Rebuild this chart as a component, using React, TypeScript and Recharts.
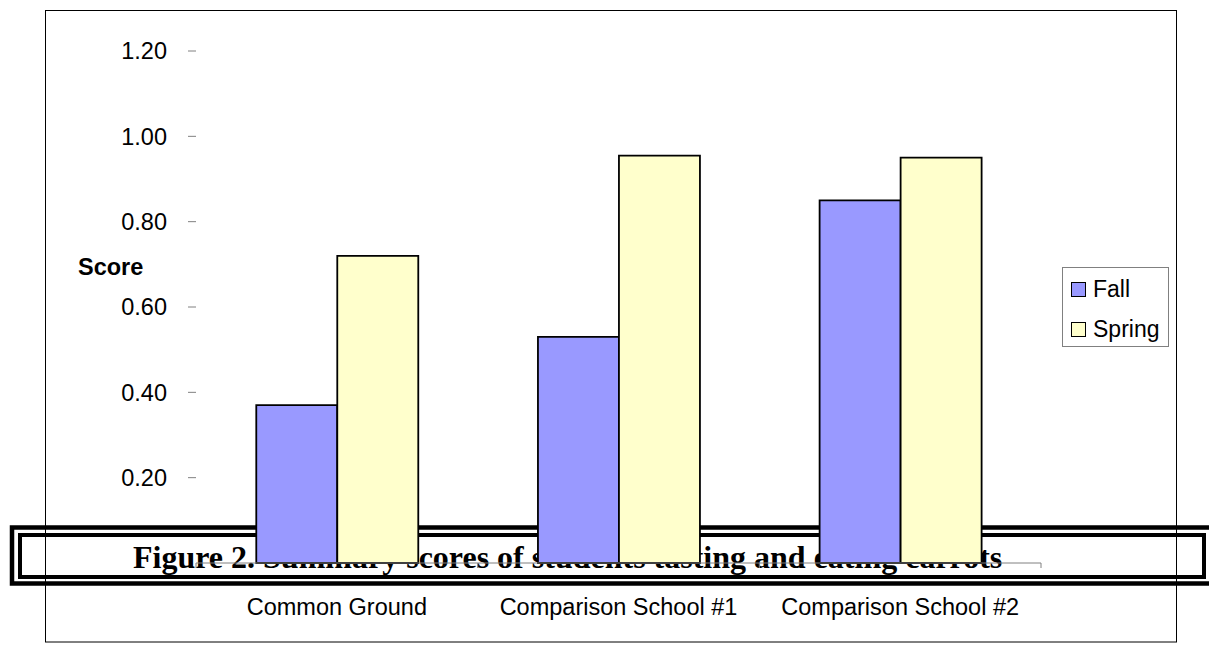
import { BarChart, Bar, XAxis, YAxis } from 'recharts'

const schools = ['Common Ground', 'Comparison School #1', 'Comparison School #2']
const fallScores = [0.37, 0.53, 0.85]
const springScores = [0.72, 0.955, 0.95]
const scoreTicks = [0.2, 0.4, 0.6, 0.8, 1.0, 1.2]

const FALL = '#9999FF'
const SPRING = '#FFFFCC'
const AXIS = '#808080'
const SANS = '"Liberation Sans", Arial, sans-serif'
const SERIF = '"Liberation Serif", "Times New Roman", serif'

const data = schools.map((school, i) => ({ school, Fall: fallScores[i], Spring: springScores[i] }))

const W = 1209
const H = 645
const TICK_SIZE = 5
const TICK_MARGIN = 30

// category label plus Excel-style tick marks on the band edges
function SchoolTick(props: any) {
  const { x, y, payload, index, visibleTicksCount } = props
  const half = payload?.offset ?? 0
  const axisY = y - TICK_SIZE - TICK_MARGIN
  return (
    <g>
      <line x1={x - half} x2={x - half} y1={axisY} y2={axisY + TICK_SIZE} stroke={AXIS} />
      {index === visibleTicksCount - 1 && (
        <line x1={x + half} x2={x + half} y1={axisY} y2={axisY + TICK_SIZE} stroke={AXIS} />
      )}
      <text x={x} y={y} dy="0.71em" textAnchor="middle" fontSize={23.5} fontFamily={SANS} fill="#000">
        {payload.value}
      </text>
    </g>
  )
}

function ScoreLabel(props: any) {
  const { viewBox } = props
  return (
    <text x={viewBox.x + 32} y={viewBox.y + 216} dominantBaseline="central" fontSize={23.5} fontWeight="bold" fontFamily={SANS} fill="#000">
      Score
    </text>
  )
}

function LegendBox() {
  const items = [
    { name: 'Fall', color: FALL },
    { name: 'Spring', color: SPRING },
  ]
  return (
    <div style={{ position: 'absolute', left: 1062, top: 267, width: 107, height: 80, border: `1px solid ${AXIS}`, boxSizing: 'border-box', background: '#fff' }}>
      {items.map((it, i) => (
        <div key={it.name} style={{ position: 'absolute', left: 8, top: 8 + i * 40, height: 26, display: 'flex', alignItems: 'center' }}>
          <span style={{ width: 13, height: 13, background: it.color, border: '1px solid #000', display: 'inline-block' }} />
          <span style={{ marginLeft: 7, fontFamily: SANS, fontSize: 23, lineHeight: '26px', color: '#000' }}>{it.name}</span>
        </div>
      ))}
    </div>
  )
}

export default function App() {
  return (
    <div style={{ position: 'absolute', left: 0, top: 0, width: W, height: H, overflow: 'hidden', background: '#fff' }}>
      {/* chart frame and the caption box that sits behind the bars */}
      <svg width={W} height={H} style={{ position: 'absolute', left: 0, top: 0 }}>
        <rect x={45.5} y={10.5} width={1131} height={631.5} fill="none" stroke="#000" />
        <rect x={12} y={527.5} width={1215} height={56} fill="none" stroke="#000" strokeWidth={4.5} />
        <rect x={20} y={535} width={1184} height={42} fill="none" stroke="#000" strokeWidth={4} />
        <text x={133} y={567.7} fontFamily={SERIF} fontWeight="bold" fontSize={32} fill="#000">
          Figure 2. Summary scores of students tasting and eating carrots
        </text>
      </svg>
      <div style={{ position: 'absolute', left: 0, top: 0 }}>
        <BarChart
          width={W}
          height={H}
          data={data}
          margin={{ top: 51, right: 168, bottom: 22, left: 46 }}
          barCategoryGap="21.4%"
          barGap={0}
        >
          <XAxis
            dataKey="school"
            height={60}
            axisLine={{ stroke: AXIS }}
            tickLine={false}
            tickSize={TICK_SIZE}
            tickMargin={TICK_MARGIN}
            tick={<SchoolTick />}
            interval={0}
          />
          <YAxis
            width={150}
            domain={[0, 1.2]}
            ticks={scoreTicks}
            tickFormatter={(v: number) => v.toFixed(2)}
            axisLine={false}
            tickLine={{ stroke: AXIS }}
            tickSize={8}
            tickMargin={21}
            tick={{ fontSize: 23.5, fontFamily: SANS, fill: '#000' }}
            label={<ScoreLabel />}
          />
          <Bar dataKey="Fall" fill={FALL} stroke="#000" strokeWidth={1.8} isAnimationActive={false} />
          <Bar dataKey="Spring" fill={SPRING} stroke="#000" strokeWidth={1.8} isAnimationActive={false} />
        </BarChart>
      </div>
      <LegendBox />
    </div>
  )
}
